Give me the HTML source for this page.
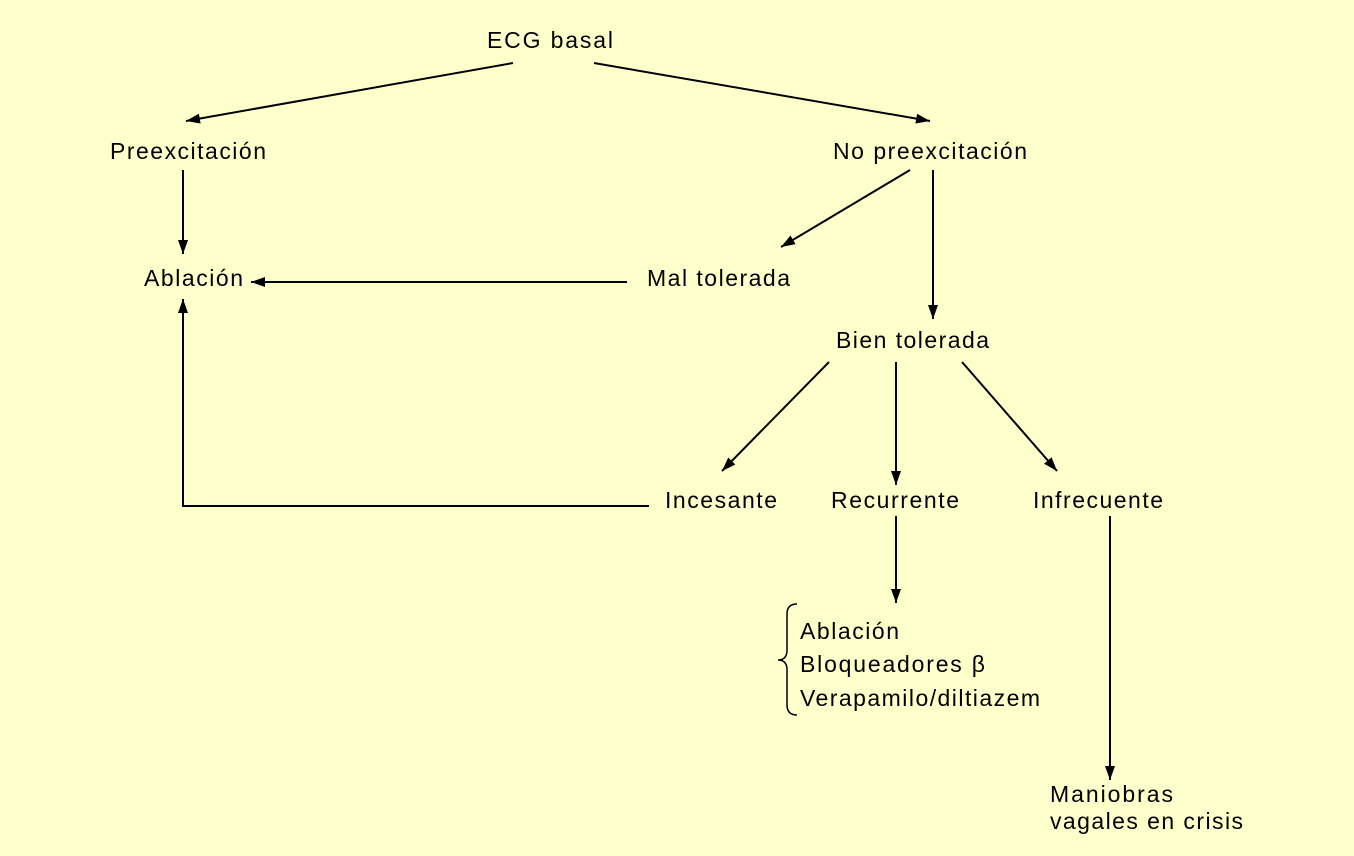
<!DOCTYPE html>
<html><head><meta charset="utf-8"><style>
html,body{margin:0;padding:0;background:#FFFFCC;}
svg{display:block;}
text{font-family:"Liberation Sans",sans-serif;font-size:23px;fill:#000;}
</style></head><body>
<svg width="1354" height="856" viewBox="0 0 1354 856" xmlns="http://www.w3.org/2000/svg">
<defs><marker id="a" viewBox="0 0 14 10" refX="14" refY="5" markerWidth="14" markerHeight="10" markerUnits="userSpaceOnUse" orient="auto"><path d="M0,0 L14,5 L0,10 Z" fill="#000"/></marker></defs>
<rect width="1354" height="856" fill="#FFFFCC"/>
<g stroke="#000" stroke-width="2" fill="none">
<line x1="513" y1="63" x2="186" y2="121" marker-end="url(#a)"/>
<line x1="594" y1="63" x2="930" y2="121" marker-end="url(#a)"/>
<line x1="183" y1="170" x2="183" y2="254" marker-end="url(#a)"/>
<line x1="910" y1="170" x2="781" y2="247" marker-end="url(#a)"/>
<line x1="933" y1="170" x2="933" y2="319" marker-end="url(#a)"/>
<line x1="627" y1="282" x2="251" y2="282" marker-end="url(#a)"/>
<line x1="829" y1="362" x2="722" y2="471" marker-end="url(#a)"/>
<line x1="896" y1="362" x2="896" y2="485" marker-end="url(#a)"/>
<line x1="962" y1="362" x2="1057" y2="471" marker-end="url(#a)"/>
<polyline points="649,506 183,506 183,299" marker-end="url(#a)"/>
<line x1="896" y1="516" x2="896" y2="603" marker-end="url(#a)"/>
<line x1="1110" y1="516" x2="1110" y2="780" marker-end="url(#a)"/>
<path d="M797,604 Q787,604 787,614 L787,650 Q787,660 778,660 Q787,660 787,670 L787,705 Q787,715 797,715" stroke-width="1.5"/>
</g>
<text x="487" y="48" textLength="126">ECG basal</text>
<text x="110" y="159" textLength="156">Preexcitación</text>
<text x="833" y="159" textLength="194">No preexcitación</text>
<text x="144" y="286" textLength="99">Ablación</text>
<text x="647" y="286" textLength="143">Mal tolerada</text>
<text x="836" y="348" textLength="153">Bien tolerada</text>
<text x="665" y="508" textLength="112">Incesante</text>
<text x="831" y="508" textLength="128">Recurrente</text>
<text x="1033" y="508" textLength="130">Infrecuente</text>
<text x="800" y="639" textLength="99">Ablación</text>
<text x="800" y="672" textLength="185">Bloqueadores β</text>
<text x="800" y="706" textLength="240">Verapamilo/diltiazem</text>
<text x="1050" y="802" textLength="123">Maniobras</text>
<text x="1050" y="829" textLength="193">vagales en crisis</text>
</svg>
</body></html>
